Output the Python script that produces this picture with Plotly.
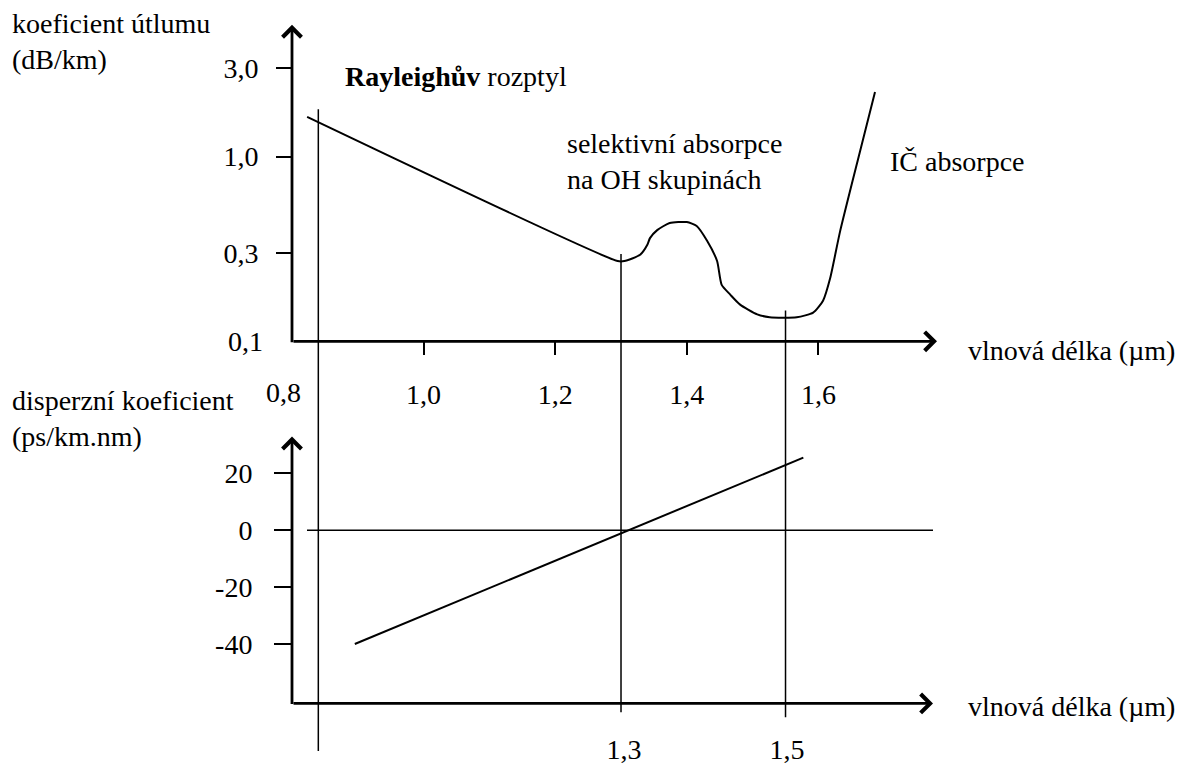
import plotly.graph_objects as go

# horni graf: koeficient utlumu (dB/km) v zavislosti na vlnove delce (um)
wavelength = [0.823, 1.295, 1.305, 1.329, 1.340, 1.344, 1.355, 1.374, 1.400, 1.415, 1.431, 1.446,
              1.453, 1.466, 1.481, 1.507, 1.526, 1.567, 1.592, 1.607, 1.618, 1.633, 1.663, 1.686]
attenuation = [1.64, 0.272, 0.272, 0.294, 0.333, 0.362, 0.400, 0.437, 0.442, 0.421, 0.349, 0.272,
               0.202, 0.179, 0.158, 0.140, 0.135, 0.135, 0.143, 0.166, 0.221, 0.395, 1.06, 2.24]

# dolni graf: disperzni koeficient (ps/km.nm)
disp_wavelength = [0.97, 1.52]
dispersion = [-40, 25.5]

# svisle pomocne cary (um)
marker_lines = [0.84, 1.30, 1.55]

att_ticks = [0.3, 1.0, 3.0]
att_ticktext = ["0,3", "1,0", "3,0"]
wl_ticks = [1.0, 1.2, 1.4, 1.6]
wl_ticktext = ["1,0", "1,2", "1,4", "1,6"]
disp_ticks = [-40, -20, 0, 20]
disp_ticktext = ["-40", "-20", "0", "20"]
disp_wl_ticks = [1.3, 1.5]
disp_wl_ticktext = ["1,3", "1,5"]

# stranka ma okraj 8 px, graf je tedy posunuty
OFF = 8
W, H = 1199 - OFF, 765 - OFF
FONT = "Liberation Serif, Times New Roman, serif"
FS = 28


def px(x):
    return (x - OFF) / W


def py(y):
    return 1 - (y - OFF) / H


fig = go.Figure()
fig.add_trace(go.Scatter(x=wavelength, y=attenuation, mode="lines",
                         line=dict(color="black", width=2, shape="spline", smoothing=0.6),
                         xaxis="x", yaxis="y"))
fig.add_trace(go.Scatter(x=disp_wavelength, y=dispersion, mode="lines",
                         line=dict(color="black", width=2), xaxis="x2", yaxis="y2"))

axis_common = dict(showgrid=False, zeroline=False, showline=False, tickcolor="black",
                   tickfont=dict(family=FONT, size=FS, color="black"))

fig.update_layout(
    width=W, height=H,
    margin=dict(l=0, r=0, t=0, b=0),
    paper_bgcolor="white", plot_bgcolor="white",
    showlegend=False,
    xaxis=dict(domain=[px(292), px(937)], range=[0.8, 1.7802], anchor="y",
               tickvals=wl_ticks, ticktext=wl_ticktext, ticks="outside", ticklen=13,
               tickwidth=1.5, ticklabelstandoff=15, **axis_common),
    yaxis=dict(domain=[py(344), py(25)], type="log", range=[-1, 0.713], anchor="x",
               tickvals=att_ticks, ticktext=att_ticktext, ticks="outside", ticklen=15,
               tickwidth=1.5, ticklabelstandoff=12, **axis_common),
    xaxis2=dict(domain=[px(292), px(933)], range=[0.893, 1.679], anchor="y2",
                tickvals=disp_wl_ticks, ticktext=disp_wl_ticktext, ticks="",
                ticklabelstandoff=27, **axis_common),
    yaxis2=dict(domain=[py(709), py(440)], range=[-60.9, 32.9], anchor="x2",
                tickvals=disp_ticks, ticktext=disp_ticktext, ticks="outside", ticklen=17,
                tickwidth=1.5, ticklabelstandoff=16, **axis_common),
)

# svisle cary pres oba grafy
line_spans = [(110, 757), (256, 718), (313, 723)]
for xv, (ytop, ybot) in zip(marker_lines, line_spans):
    fig.add_shape(type="line", xref="x", yref="paper", x0=xv, x1=xv, y0=py(ytop), y1=py(ybot),
                  line=dict(color="black", width=1.5))

# nulova cara dole
fig.add_shape(type="line", xref="x2 domain", yref="y2", x0=0.0234, x1=1, y0=0, y1=0,
              line=dict(color="black", width=1.5))

# osy se sipkami
arrow = dict(text="", showarrow=True, arrowhead=4, arrowsize=1.3, arrowwidth=2.8,
             arrowcolor="black", standoff=0, startstandoff=0)
fig.add_annotation(xref="x domain", yref="y domain", x=0, y=1, ax=0, ay=319, **arrow)
fig.add_annotation(xref="x domain", yref="y domain", x=1, y=0, ax=-645, ay=0, **arrow)
fig.add_annotation(xref="x2 domain", yref="y2 domain", x=0, y=1, ax=0, ay=269, **arrow)
fig.add_annotation(xref="x2 domain", yref="y2 domain", x=1, y=0, ax=-641, ay=0, **arrow)

# popisky
labels = [
    ("koeficient útlumu<br>(dB/km)", 10, 42, "left"),
    ("disperzní koeficient<br>(ps/km.nm)", 10, 422, "left"),
    ("<b>Rayleighův</b> rozptyl", 343, 77, "left"),
    ("selektivní absorpce<br>na OH skupinách", 565, 163, "left"),
    ("IČ absorpce", 888, 163, "left"),
    ("vlnová délka (µm)", 966, 353, "left"),
    ("vlnová délka (µm)", 966, 712, "left"),
    ("0,1", 265, 344, "right"),
    ("0,8", 283, 396, "center"),
]
for text, x, y, anchor in labels:
    fig.add_annotation(text=text, xref="paper", yref="paper", x=px(x), y=py(y),
                       xanchor=anchor, yanchor="middle", showarrow=False, align="left",
                       font=dict(family=FONT, size=FS, color="black"))

fig.write_html("out.html")
